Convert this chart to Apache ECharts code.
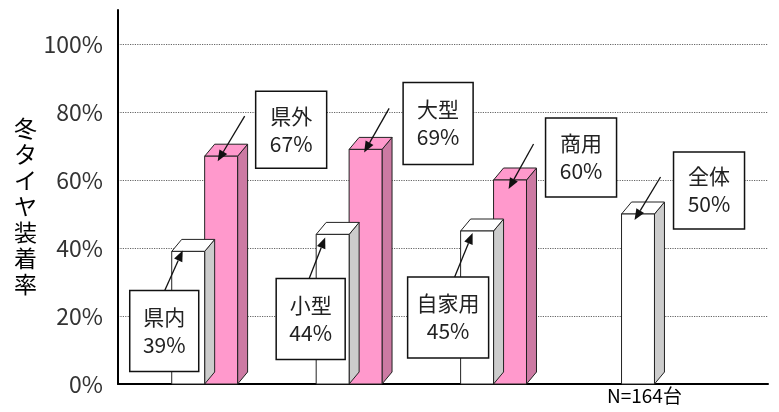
<!DOCTYPE html>
<html><head><meta charset="utf-8">
<script src="https://cdn.jsdelivr.net/npm/echarts@6/dist/echarts.min.js"></script>
<style>html,body{margin:0;padding:0;background:#fff}#c{width:779px;height:412px}</style>
</head><body><div id="c"></div>
<script>
// ---- data ----
const categories = ['県内','県外','小型','大型','自家用','商用','全体'];
const values = [39,67,44,69,45,60,50];
const groupIndex = [0,0,1,1,2,2,3];
const barKind = ['white','pink','white','pink','white','pink','white'];
const yTicks = [0,20,40,60,80,100];
const axisTitle = '冬タイヤ装着率';
const sampleNote = 'N=164台';

// ---- layout (pixels relative to the bar's front top-left corner) ----
const boxLayout = [
  [-42,39,69,81],[51,-65,71,77],[-40,44,69,81],[54,-67,70,82],[-53,46,81,81],[52,-62,71,79],[52,-62,71,77]];
const arrowLayout = [
  [-7,39,11,-1],[40,-40,13,5],[-7,44,9,3],[40,-41,15,3],[-6,46,12,2],[40,-36,15,9],[39,-37,13,6]];
const palette = {
  white:{front:'#ffffff', side:'#cccccc', top:'#ffffff'},
  pink:{front:'#ff99cc', side:'#cc7aa3', top:'#ff99cc'}
};
const groupCount = {};
groupIndex.forEach(g => groupCount[g] = (groupCount[g]||0)+1);

const seriesData = values.map((v,i) => [groupIndex[i], v]);

function renderItem(params, api){
  const i = params.dataIndex;
  const g = api.value(0), v = api.value(1);
  const unit = api.size([1,0])[0];
  const w = unit*0.228;
  const c = api.coord([g,0]);
  const t = api.coord([g,v]);
  const y0 = c[1], yT = t[1];
  let x0;
  if (groupCount[g] === 1) x0 = c[0]-w/2;
  else x0 = barKind[i]==='white' ? c[0]-w : c[0];
  const dx=10, dy=-12;
  const col = palette[barKind[i]];
  const zb = barKind[i]==='white' ? 2 : 1;
  const stroke = '#222';
  const children = [
    {type:'polygon', shape:{points:[[x0+w,yT],[x0+w+dx,yT+dy],[x0+w+dx,y0+dy],[x0+w,y0]]}, style:{fill:col.side, stroke, lineWidth:1}, z2:zb},
    {type:'polygon', shape:{points:[[x0,yT],[x0+dx,yT+dy],[x0+w+dx,yT+dy],[x0+w,yT]]}, style:{fill:col.top, stroke, lineWidth:1}, z2:zb},
    {type:'rect', shape:{x:x0,y:yT,width:w,height:y0-yT}, style:{fill:col.front, stroke, lineWidth:1}, z2:zb}
  ];
  const b = boxLayout[i];
  children.push({type:'rect', shape:{x:x0+b[0], y:yT+b[1], width:b[2], height:b[3]}, style:{fill:'#fff', stroke:'#111', lineWidth:1.5}, z2:10});
  children.push({type:'text', x:x0+b[0]+b[2]/2, y:yT+b[1]+b[3]/2,
    style:{text: categories[i]+'\n'+values[i]+'%', align:'center', verticalAlign:'middle', fontSize:21, lineHeight:28, fontFamily:'Noto Sans CJK JP', fill:'#222'}, z2:11});
  const a = arrowLayout[i];
  const sx=x0+a[0], sy=yT+a[1], ex=x0+a[2], ey=yT+a[3];
  const ang = Math.atan2(ey-sy, ex-sx);
  const L=11, Wd=4.5;
  const bx = ex - L*Math.cos(ang), by = ey - L*Math.sin(ang);
  const px = -Math.sin(ang)*Wd, py = Math.cos(ang)*Wd;
  children.push({type:'line', shape:{x1:sx,y1:sy,x2:bx,y2:by}, style:{stroke:'#111', lineWidth:1.3}, z2:12});
  children.push({type:'polygon', shape:{points:[[ex,ey],[bx+px,by+py],[bx-px,by-py]]}, style:{fill:'#111'}, z2:12});
  return {type:'group', children};
}

const chart = echarts.init(document.getElementById('c'), null, {renderer:'canvas'});
chart.setOption({
  animation:false,
  backgroundColor:'#fff',
  grid:{left:118, right:11, top:10, bottom:28, containLabel:false},
  xAxis:{type:'value', min:-0.6, max:3.9, axisLine:{show:true, onZero:false, lineStyle:{color:'#000', width:2}},
    axisTick:{show:false}, axisLabel:{show:false}, splitLine:{show:false}},
  yAxis:{type:'value', min:0, max:110, interval:20,
    axisLine:{show:true, onZero:false, lineStyle:{color:'#000', width:2}},
    axisTick:{show:false},
    axisLabel:{showMaxLabel:false, margin:15, fontSize:23, color:'#333', fontFamily:'Noto Sans CJK JP',
      formatter: v => yTicks.indexOf(v) >= 0 ? v+'%' : ''},
    splitLine:{show:true, showMinLine:false, showMaxLine:false, lineStyle:{type:'dotted', color:'#666', width:1.2}}},
  graphic:[
    {type:'text', left:14, top:'middle', style:{text: axisTitle.split('').join('\n'), fontSize:23, lineHeight:26, fontFamily:'Noto Sans CJK JP', fill:'#000', align:'center'}},
    {type:'text', left:607, top:386, style:{text: sampleNote, fontSize:19, fontFamily:'Noto Sans CJK JP', fill:'#000'}}
  ],
  series:[{type:'custom', renderItem, data:seriesData, clip:false}]
});
</script></body></html>
